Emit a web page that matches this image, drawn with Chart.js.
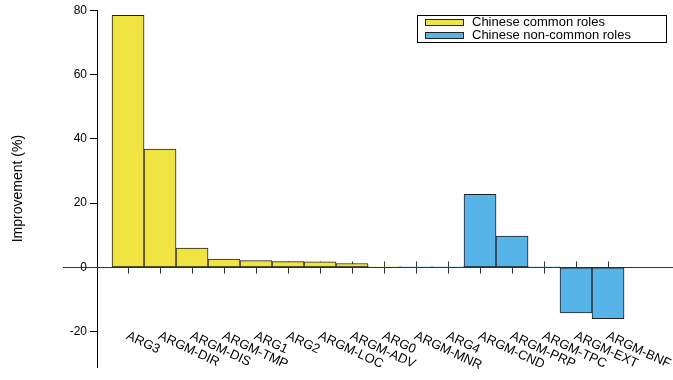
<!DOCTYPE html>
<html>
<head>
<meta charset="utf-8">
<script src="https://cdn.jsdelivr.net/npm/chart.js@4"></script>
<style>
  html, body { margin: 0; padding: 0; background: #fff; }
  #wrap { width: 673px; height: 380px; }
</style>
</head>
<body>
<div id="wrap"><canvas id="chartRoles"></canvas></div>
<script>
//roles (eixo x)
const roles = ['ARG3', 'ARGM-DIR', 'ARGM-DIS', 'ARGM-TMP', 'ARG1', 'ARG2', 'ARGM-LOC', 'ARGM-ADV',
  'ARG0', 'ARGM-MNR', 'ARG4', 'ARGM-CND', 'ARGM-PRP', 'ARGM-TPC', 'ARGM-EXT', 'ARGM-BNF'];

//melhoria (%) por grupo
const commonRoles = [78.4, 36.8, 6.0, 2.6, 2.1, 1.8, 1.7, 1.2, 0.2, null, null, null, null, null, null, null];
const nonCommonRoles = [null, null, null, null, null, null, null, null, null, 0.1, 0.1, 22.7, 9.7, 0.1, -14.2, -16.0];

const yTicks = [-20, 0, 20, 40, 60, 80];

const font = '"Liberation Sans", Arial, sans-serif';

// pontos {x: indice, y: valor} para o eixo x linear
const toPoints = (values) => values
  .map((v, i) => ({ x: i, y: v }))
  .filter(p => p.y !== null);

//linha do zero, marcas, rotulos e legenda
const zeroAxis = {
  id: 'zeroAxis',
  beforeDatasetsDraw(chart) {
    const { ctx, chartArea, scales: { x, y } } = chart;
    const y0 = Math.round(y.getPixelForValue(0)) + 0.5;
    ctx.save();
    ctx.strokeStyle = '#333';
    ctx.lineWidth = 1;
    ctx.beginPath();
    ctx.moveTo(chartArea.left - 34, y0);
    ctx.lineTo(chart.width, y0);
    roles.forEach((r, i) => {
      const px = Math.round(x.getPixelForValue(i)) + 0.5;
      ctx.moveTo(px, y0 - 6);
      ctx.lineTo(px, y0 + 6);
    });
    ctx.stroke();
    ctx.restore();
  },
  afterDraw(chart) {
    const { ctx, scales: { x, y } } = chart;
    const y0 = y.getPixelForValue(0);
    ctx.save();
    ctx.fillStyle = '#000';
    ctx.font = '13px ' + font;
    ctx.textAlign = 'left';
    ctx.textBaseline = 'middle';
    roles.forEach((r, i) => {
      ctx.save();
      ctx.translate(x.getPixelForValue(i) - 1, y0 + 68);
      ctx.rotate(25 * Math.PI / 180);
      ctx.fillText(r, 0, 0);
      ctx.restore();
    });

    // legenda
    const lx = chart.width - 256, ly = 15, lw = 249, lh = 27;
    ctx.fillStyle = '#fff';
    ctx.fillRect(lx, ly, lw, lh);
    ctx.strokeStyle = '#000';
    ctx.strokeRect(lx + 0.5, ly + 0.5, lw, lh);
    chart.data.datasets.forEach((ds, i) => {
      const cy = ly + 7.5 + i * 13;
      ctx.fillStyle = ds.backgroundColor;
      ctx.fillRect(lx + 8, cy - 3, 38, 6);
      ctx.strokeStyle = ds.borderColor;
      ctx.strokeRect(lx + 8.5, cy - 3, 38, 6);
      ctx.fillStyle = '#000';
      ctx.fillText(ds.label, lx + 55, cy);
    });
    ctx.restore();
  }
};

const context = document.getElementById('chartRoles');
const chartRoles = new Chart(context, {
  type: 'bar',
  data: {
    datasets: [{
      label: 'Chinese common roles',
      data: toPoints(commonRoles),
      backgroundColor: '#f0e442',
      borderColor: '#222',
      borderWidth: 1,
      borderSkipped: false,
      grouped: false,
      barPercentage: 1,
      categoryPercentage: 1,
    },
    {
      label: 'Chinese non-common roles',
      data: toPoints(nonCommonRoles),
      backgroundColor: '#56b4e9',
      borderColor: '#222',
      borderWidth: 1,
      borderSkipped: false,
      grouped: false,
      barPercentage: 1,
      categoryPercentage: 1,
    }]
  },
  options: {
    responsive: true,
    maintainAspectRatio: false,
    animation: false,
    layout: {
      padding: { top: 10, right: 16, bottom: 13, left: 0 }
    },
    scales: {
      x: {
        type: 'linear',
        display: false,
        offset: false,
        min: -0.97,
        max: 16.53,
      },
      y: {
        min: -31,
        max: 80,
        afterBuildTicks: (scale) => {
          scale.ticks = yTicks.map(v => ({ value: v }));
        },
        afterFit: (scale) => {
          scale.width = 97;
        },
        ticks: {
          color: '#000',
          padding: 3,
          font: { family: font, size: 12 },
        },
        grid: {
          drawOnChartArea: false,
          tickLength: 7,
          color: '#000',
        },
        border: {
          color: '#000',
        },
        title: {
          display: true,
          text: 'Improvement (%)',
          color: '#000',
          font: { family: font, size: 14 },
          padding: { top: 10, bottom: 0 },
        }
      }
    },
    plugins: {
      legend: { display: false },
      tooltip: { enabled: false },
    }
  },
  plugins: [zeroAxis]
});
</script>
</body>
</html>
